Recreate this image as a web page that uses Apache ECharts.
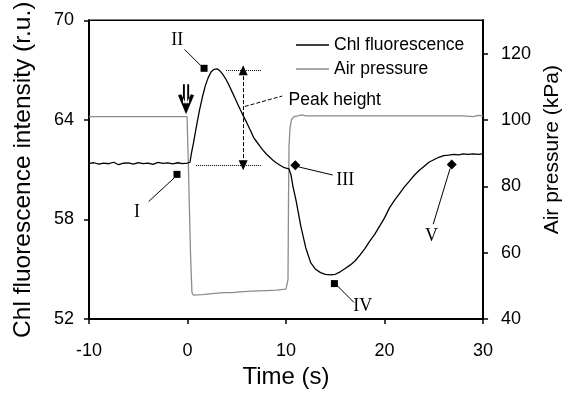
<!DOCTYPE html>
<html>
<head>
<meta charset="utf-8">
<script src="https://cdn.jsdelivr.net/npm/echarts@6/dist/echarts.min.js"></script>
<style>
  html, body { margin: 0; padding: 0; background: #fff; }
  #chart { width: 571px; height: 394px; }
</style>
</head>
<body>
<div id="chart"></div>
<script>
// Chl fluorescence trace (r.u.)
var timeF = [-10, -9.5, -9, -8.5, -8, -7.5, -7, -6.5, -6, -5.5, -5, -4.5, -4, -3.5, -3, -2.5, -2, -1.5, -1, -0.5, 0, 0.25,
  0.4, 0.6, 0.9, 1.2, 1.5, 1.8, 2.1, 2.4, 2.7, 3.0, 3.3, 3.6, 3.9, 4.2, 4.5, 4.8, 5.1, 5.4, 5.7, 6.0, 6.4, 6.7, 7.0, 7.4, 7.7,
  8.0, 8.4, 8.7, 9.0, 9.4, 9.7, 10.0, 10.3, 10.5, 10.7, 11.0, 11.5, 12.0, 12.5, 13.0, 13.5, 14.0, 14.5, 15.0, 15.5, 16.0,
  16.5, 17.0, 17.5, 18.0, 18.5, 19.0, 19.5, 20.0, 20.5, 21.0, 21.5, 22.0, 22.5, 23.0, 23.5, 24.0, 24.5, 25.0, 25.5, 26.0,
  26.5, 27.0, 27.5, 28.0, 28.5, 29.0, 29.5, 30.0]
var fluor = [61.38, 61.42, 61.33, 61.40, 61.36, 61.45, 61.30, 61.39, 61.41, 61.34, 61.43, 61.37, 61.40, 61.32, 61.44, 61.38, 61.41, 61.35, 61.42, 61.37, 61.40, 61.45,
  62.0, 62.6, 63.6, 64.55, 65.35, 66.05, 66.55, 66.9, 67.05, 67.08, 66.95, 66.73, 66.45, 66.1, 65.72, 65.33, 64.95, 64.57, 64.2, 63.85, 63.35, 62.95, 62.7, 62.38, 62.15,
  61.95, 61.72, 61.56, 61.42, 61.27, 61.16, 61.1, 61.05, 60.7, 60.0, 59.2, 57.6, 56.3, 55.4, 55.0, 54.8, 54.7, 54.66, 54.7, 54.85, 55.05,
  55.25, 55.5, 55.85, 56.25, 56.7, 57.1, 57.6, 58.1, 58.7, 59.15, 59.55, 59.95, 60.3, 60.65, 60.95, 61.2, 61.45, 61.6, 61.75, 61.85,
  61.88, 61.92, 61.9, 61.95, 61.93, 61.96, 61.92, 61.95]

// air pressure trace (kPa)
var timeP = [-10, -8, -6, -4, -2, -0.05, 0.1, 0.3, 0.45, 0.6, 1.5, 2.5, 3.7, 4.5, 5.7, 6.5, 8.0, 9.0, 10.0, 10.1,
  10.2, 10.25, 10.3, 10.4, 10.55, 10.8, 11.2, 11.6, 12.0, 14, 16, 18, 20, 22, 24, 26, 28, 29, 29.5, 30]
var pressure = [101, 101, 101, 101, 101, 101, 85, 60, 48, 47.2, 47.4, 47.7, 48.0, 48.0, 48.3, 48.4, 48.6, 48.7, 49.0, 49.1,
  52, 75, 92, 97.5, 100, 101, 101.2, 101.5, 101.2, 101.2, 101.2, 101.2, 101.2, 101.2, 101.2, 101.2, 101.2, 101.0, 101.4, 101.2]

var xTicks = [-10, 0, 10, 20, 30]
var yLeftTicks = [52, 58, 64, 70]
var yRightTicks = [40, 60, 80, 100, 120]

var fluorData = timeF.map(function (t, i) { return [t, fluor[i]] })
var pressData = timeP.map(function (t, i) { return [t, pressure[i]] })

var font = 'Liberation Sans, Arial, sans-serif'
var serif = 'Liberation Serif, Times New Roman, serif'

function leader(a, b, type) {
  return [{ coord: a, lineStyle: { type: type || 'solid' } }, { coord: b }]
}
function label(text, c) {
  return {
    coord: c, symbol: 'rect', symbolSize: 1, itemStyle: { color: 'rgba(0,0,0,0)' },
    label: { show: true, position: 'inside', formatter: text, fontFamily: serif, fontSize: 18, color: '#000' }
  }
}
function mark(c, shape) {
  return { coord: c, symbol: shape, symbolSize: shape == 'diamond' ? 10 : 7, itemStyle: { color: '#000' } }
}

// double-shaft down arrow (the ⇓ at t = 0)
var arrowPath = 'path://M4.6,0H6.4V19H4.6Z M8.6,0H10.4V19H8.6Z M0,11L7.5,30L15,11L12,10L7.5,20L3,10Z'

var option = {
  animation: false,
  grid: { left: 89, right: 79, top: 17, bottom: 72, show: true, borderColor: '#000', borderWidth: 1.5 },
  legend: {
    left: 291, top: 31, orient: 'vertical', itemWidth: 33, itemHeight: 14, itemGap: 6,
    textStyle: { fontFamily: font, fontSize: 17.5, color: '#000' },
    data: [
      { name: 'Chl fluorescence', icon: 'path://M0,0H33V1.4H0Z', itemStyle: { color: '#000' } },
      { name: 'Air pressure', icon: 'path://M0,0H33V1.4H0Z', itemStyle: { color: '#8c8c8c' } }
    ]
  },
  xAxis: {
    type: 'value', min: -10, max: 30, interval: 10,
    name: 'Time (s)', nameLocation: 'middle', nameGap: 40,
    nameTextStyle: { fontFamily: font, fontSize: 24, color: '#000' },
    axisLine: { show: true, onZero: false, lineStyle: { color: '#000', width: 2 } },
    axisTick: { show: true, inside: false, length: 5, lineStyle: { color: '#000', width: 1.5 }, customValues: xTicks },
    axisLabel: { fontFamily: font, fontSize: 18, color: '#000', margin: 23, customValues: xTicks },
    splitLine: { show: false }
  },
  yAxis: [
    {
      type: 'value', min: 52, max: 70, interval: 6, position: 'left',
      name: 'Chl fluorescence intensity (r.u.)', nameLocation: 'middle', nameGap: 53,
      nameTextStyle: { fontFamily: font, fontSize: 24.5, color: '#000' },
      axisLine: { show: true, onZero: false, lineStyle: { color: '#000', width: 2 } },
      axisTick: { show: true, length: 5, lineStyle: { color: '#000', width: 1.5 }, customValues: yLeftTicks },
      axisLabel: { fontFamily: font, fontSize: 18, color: '#000', margin: 15, customValues: yLeftTicks },
      splitLine: { show: false }
    },
    {
      type: 'value', min: 40, max: 130, interval: 20, position: 'right',
      name: 'Air pressure (kPa)', nameLocation: 'middle', nameGap: 57,
      nameTextStyle: { fontFamily: font, fontSize: 21, color: '#000', padding: [0, 0, 0, 40] },
      axisLine: { show: true, onZero: false, lineStyle: { color: '#000', width: 2 } },
      axisTick: { show: true, length: 5, lineStyle: { color: '#000', width: 1.5 }, customValues: yRightTicks },
      axisLabel: { fontFamily: font, fontSize: 18, color: '#000', margin: 18, customValues: yRightTicks },
      splitLine: { show: false }
    }
  ],
  series: [
    {
      name: 'Air pressure', type: 'line', yAxisIndex: 1, data: pressData,
      symbol: 'none', lineStyle: { color: '#8c8c8c', width: 1.3 }, itemStyle: { color: '#8c8c8c' }
    },
    {
      name: 'Chl fluorescence', type: 'line', yAxisIndex: 0, data: fluorData,
      symbol: 'none', lineStyle: { color: '#000', width: 1.3 }, itemStyle: { color: '#000' },
      markLine: {
        silent: true, symbol: ['none', 'none'], label: { show: false },
        lineStyle: { color: '#000', width: 1, type: 'solid' },
        data: [
          leader([-1.36, 60.5], [-3.95, 59.08]),
          leader([-0.3, 68.25], [1.35, 67.27]),
          leader([11.27, 61.17], [14.74, 60.68]),
          leader([15.24, 53.99], [16.9, 53.0]),
          leader([26.65, 61.07], [24.94, 57.72]),
          leader([3.9, 67.0], [7.47, 67.0], 'dotted'),
          leader([0.85, 61.27], [7.47, 61.27], 'dotted'),
          leader([5.81, 64.81], [9.61, 65.44], 'dashed'),
          [{ coord: [5.65, 67.0], symbol: 'triangle', symbolSize: [9, 10], lineStyle: { type: 'dashed' } },
           { coord: [5.65, 61.27], symbol: 'triangle', symbolSize: [9, 10] }]
        ]
      },
      markPoint: {
        silent: true, label: { show: false },
        data: [
          mark([-1.07, 60.72], 'rect'),
          mark([1.68, 67.11], 'rect'),
          mark([10.94, 61.27], 'diamond'),
          mark([14.91, 54.14], 'rect'),
          mark([26.82, 61.31], 'diamond'),
          label('I', [-5.14, 58.43]),
          label('II', [-1.04, 68.78]),
          label('III', [16.0, 60.38]),
          label('IV', [17.79, 52.75]),
          label('V', [24.77, 56.97]),
          { coord: [-0.15, 65.25], symbol: arrowPath, symbolSize: [16, 30], itemStyle: { color: '#000' } },
          {
            coord: [10.0, 65.2], symbol: 'rect', symbolSize: 1, itemStyle: { color: 'rgba(0,0,0,0)' },
            label: { show: true, position: 'right', distance: 2, formatter: 'Peak height', fontFamily: font, fontSize: 17.5, color: '#000' }
          }
        ]
      }
    }
  ]
}

var myChart = echarts.init(document.getElementById('chart'))
myChart.setOption(option)
</script>
</body>
</html>
